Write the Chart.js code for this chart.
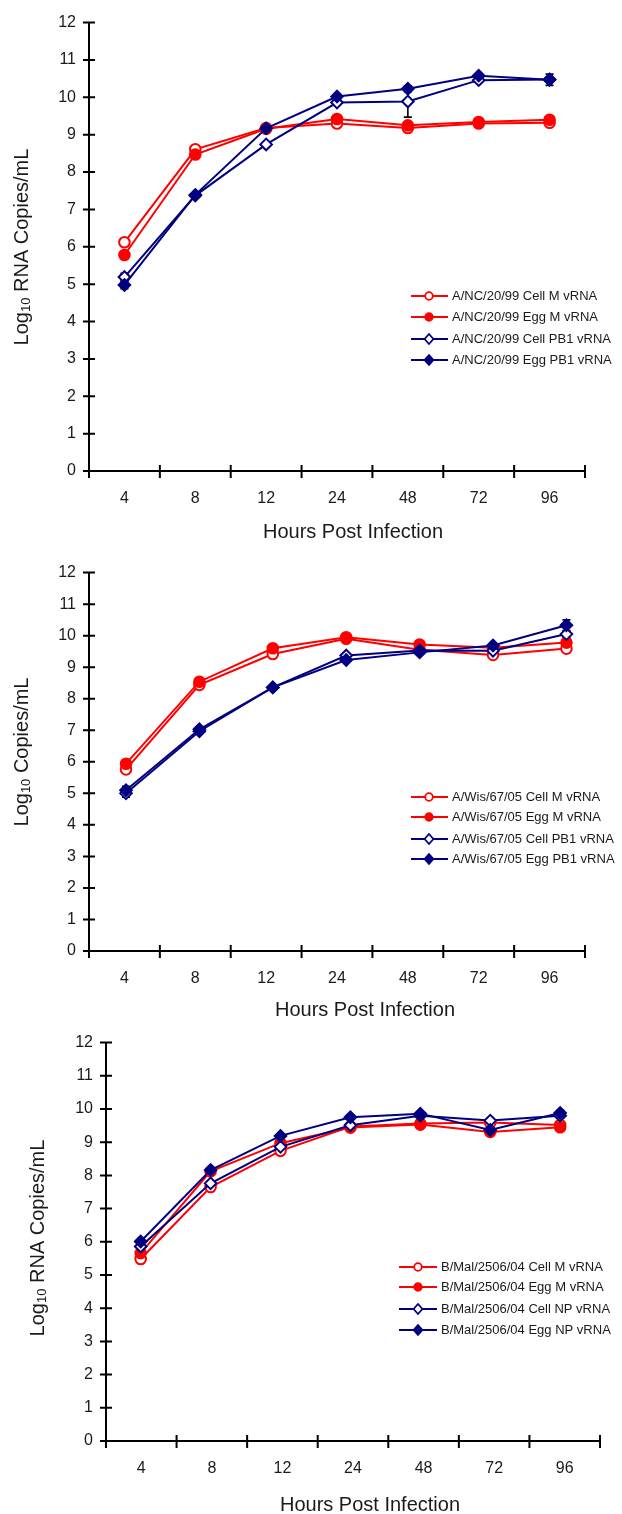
<!DOCTYPE html>
<html><head><meta charset="utf-8">
<script src="https://cdn.jsdelivr.net/npm/chart.js@4.4.0/dist/chart.umd.min.js"></script>
<style>
html,body{margin:0;padding:0;background:#fff;}
body{width:622px;height:1514px;position:relative;overflow:hidden;}
.box{position:absolute;left:0;width:622px;}
</style></head><body>
<div class="box" id="b1" style="top:0px;height:550px"><canvas id="c1"></canvas></div>
<div class="box" id="b2" style="top:550px;height:470px"><canvas id="c2"></canvas></div>
<div class="box" id="b3" style="top:1020px;height:494px"><canvas id="c3"></canvas></div>
<script>
// ---------- data ----------
const hours = ['4', '8', '12', '24', '48', '72', '96'];

// Panel 1: A/NC/20/99
const p1Labels = ['A/NC/20/99 Cell M vRNA', 'A/NC/20/99 Egg M vRNA', 'A/NC/20/99 Cell PB1 vRNA', 'A/NC/20/99 Egg PB1 vRNA'];
const p1CellM   = [6.12, 8.61, 9.18, 9.30, 9.18, 9.30, 9.32];
const p1EggM    = [5.78, 8.47, 9.16, 9.42, 9.25, 9.34, 9.40];
const p1CellPB1 = [5.19, 7.37, 8.74, 9.86, 9.89, 10.46, 10.48];
const p1EggPB1  = [4.98, 7.39, 9.17, 10.02, 10.23, 10.58, 10.47];
const p1CellMErr   = [0.05, 0.04, 0.03, 0.04, 0.04, 0.03, 0.04];
const p1EggMErr    = [0.05, 0.04, 0.03, 0.05, 0.08, 0.03, 0.05];
const p1CellPB1Err = [0.10, 0.05, 0.04, 0.05, 0.42, 0.04, 0.05];
const p1EggPB1Err  = [0.10, 0.05, 0.04, 0.04, 0.08, 0.04, 0.15];

// Panel 2: A/Wis/67/05
const p2Labels = ['A/Wis/67/05 Cell M vRNA', 'A/Wis/67/05 Egg M vRNA', 'A/Wis/67/05 Cell PB1 vRNA', 'A/Wis/67/05 Egg PB1 vRNA'];
const p2CellM   = [5.76, 8.44, 9.42, 9.90, 9.55, 9.39, 9.59];
const p2EggM    = [5.94, 8.54, 9.60, 9.95, 9.72, 9.62, 9.78];
const p2CellPB1 = [5.00, 6.97, 8.36, 9.37, 9.53, 9.52, 10.05];
const p2EggPB1  = [5.10, 7.03, 8.36, 9.23, 9.47, 9.69, 10.33];
const p2CellMErr   = [0.08, 0.06, 0.04, 0.04, 0.04, 0.08, 0.04];
const p2EggMErr    = [0.05, 0.08, 0.04, 0.04, 0.04, 0.04, 0.05];
const p2CellPB1Err = [0.12, 0.05, 0.04, 0.04, 0.04, 0.05, 0.10];
const p2EggPB1Err  = [0.12, 0.05, 0.04, 0.04, 0.04, 0.05, 0.17];

// Panel 3: B/Mal/2506/04
const p3Labels = ['B/Mal/2506/04 Cell M vRNA', 'B/Mal/2506/04 Egg M vRNA', 'B/Mal/2506/04 Cell NP vRNA', 'B/Mal/2506/04 Egg NP vRNA'];
const p3CellM  = [5.48, 7.65, 8.74, 9.47, 9.56, 9.59, 9.52];
const p3EggM   = [5.66, 8.12, 8.97, 9.44, 9.53, 9.31, 9.45];
const p3CellNP = [5.86, 7.76, 8.86, 9.51, 9.80, 9.65, 9.80];
const p3EggNP  = [6.01, 8.16, 9.19, 9.75, 9.86, 9.37, 9.88];
const p3CellMErr  = [0.06, 0.06, 0.08, 0.08, 0.05, 0.05, 0.08];
const p3EggMErr   = [0.06, 0.06, 0.08, 0.08, 0.05, 0.05, 0.08];
const p3CellNPErr = [0.05, 0.06, 0.08, 0.05, 0.05, 0.05, 0.08];
const p3EggNPErr  = [0.05, 0.05, 0.05, 0.05, 0.05, 0.05, 0.08];

// y-axis tick range
const yMin = 0, yMax = 12, yStep = 1;

// ---------- styles ----------
const RED = '#FF0000', BLUE = '#000080';
const FONT = "'Liberation Sans', Arial, Helvetica, sans-serif";

function mk(vals, errs, label, color, shape, filled, order) {
  return {
    label: label,
    data: vals.map((v, i) => ({ x: i, y: v })),
    errs: errs, order: order,
    xAxisID: 'xd', yAxisID: 'y',
    borderColor: color, backgroundColor: filled ? color : '#fff',
    pointBackgroundColor: filled ? color : '#fff', pointBorderColor: color,
    pointStyle: shape, pointRadius: shape === 'circle' ? 5.3 : 5.8, pointBorderWidth: 2,
    borderWidth: 2, tension: 0, fill: false, _filled: filled, _shape: shape
  };
}

const decor = {
  id: 'decor',
  beforeDatasetsDraw(chart, args, o) {
    const ctx = chart.ctx, ca = chart.chartArea;
    const xs = chart.scales.x, ys = chart.scales.y, xd = chart.scales.xd;
    ctx.save();
    ctx.strokeStyle = '#000'; ctx.lineWidth = 2; ctx.lineCap = 'butt';
    ctx.beginPath();
    ctx.moveTo(ca.left, ca.top - 1); ctx.lineTo(ca.left, ca.bottom); ctx.lineTo(ca.right, ca.bottom);
    ys.ticks.forEach(t => {
      const y = ys.getPixelForValue(t.value);
      ctx.moveTo(ca.left - 6, y); ctx.lineTo(ca.left + 6, y);
    });
    const n = xs.ticks.length;
    for (let i = 0; i <= n; i++) {
      const x = xs.getPixelForValue(i - 0.5);
      ctx.moveTo(x, ca.bottom - 6); ctx.lineTo(x, ca.bottom + 7);
    }
    ctx.stroke();
    // error bars
    ctx.lineWidth = 1.6;
    chart.data.datasets.forEach(ds => {
      if (!ds.errs) return;
      ds.data.forEach((p, i) => {
        const e = ds.errs[i]; if (!e) return;
        const x = xd.getPixelForValue(p.x);
        const y1 = ys.getPixelForValue(p.y + e), y2 = ys.getPixelForValue(p.y - e);
        ctx.beginPath();
        ctx.moveTo(x, y1); ctx.lineTo(x, y2);
        ctx.moveTo(x - 4, y1); ctx.lineTo(x + 4, y1);
        ctx.moveTo(x - 4, y2); ctx.lineTo(x + 4, y2);
        ctx.stroke();
      });
    });
    ctx.restore();
  },
  afterDraw(chart, args, o) {
    const ctx = chart.ctx;
    ctx.save();
    ctx.fillStyle = '#1a1a1a';
    // x title
    ctx.font = '20px ' + FONT; ctx.textAlign = 'center'; ctx.textBaseline = 'middle';
    ctx.fillText(o.xTitle, o.xTitlePos[0], o.xTitlePos[1]);
    // y title with subscript
    ctx.save();
    ctx.translate(o.yTitlePos[0], o.yTitlePos[1]); ctx.rotate(-Math.PI / 2);
    ctx.textAlign = 'left';
    let total = 0;
    o.yTitle.forEach(p => { ctx.font = (p.sub ? '13px ' : '20px ') + FONT; total += ctx.measureText(p.t).width; });
    let x = -total / 2;
    o.yTitle.forEach(p => {
      ctx.font = (p.sub ? '13px ' : '20px ') + FONT;
      ctx.fillText(p.t, x, p.sub ? 4 : 0);
      x += ctx.measureText(p.t).width;
    });
    ctx.restore();
    // legend
    const L = o.legend;
    ctx.font = '13px ' + FONT; ctx.textAlign = 'left'; ctx.textBaseline = 'middle';
    chart.data.datasets.forEach((ds, i) => {
      const y = L.rows[i];
      ctx.strokeStyle = ds.borderColor; ctx.lineWidth = 2;
      ctx.beginPath(); ctx.moveTo(L.x0, y); ctx.lineTo(L.x1, y); ctx.stroke();
      const r = ds._shape === 'circle' ? 3.8 : 4.4;
      ctx.beginPath();
      if (ds._shape === 'circle') ctx.arc(L.mx, y, r, 0, Math.PI * 2);
      else { ctx.moveTo(L.mx, y - r - 0.6); ctx.lineTo(L.mx + r, y); ctx.lineTo(L.mx, y + r + 0.6); ctx.lineTo(L.mx - r, y); ctx.closePath(); }
      ctx.fillStyle = ds._filled ? ds.borderColor : '#fff'; ctx.fill();
      ctx.lineWidth = 1.8; ctx.stroke();
      ctx.fillStyle = '#1a1a1a';
      ctx.fillText(ds.label, L.tx, y + 0.5);
    });
    ctx.restore();
  }
};

function makePanel(cfg) {
  const a = cfg.area, top = cfg.top, H = cfg.height;
  const loc = (pt) => [pt[0], pt[1] - top];
  new Chart(document.getElementById(cfg.id), {
    type: 'line',
    data: { labels: hours, datasets: cfg.datasets },
    options: {
      responsive: true, maintainAspectRatio: false, animation: false,
      layout: { padding: { left: 0, right: 622 - a.right, top: a.top - top, bottom: 0 } },
      plugins: {
        legend: { display: false }, tooltip: { enabled: false },
        decor: {
          xTitle: 'Hours Post Infection', xTitlePos: loc(cfg.xTitlePos),
          yTitle: cfg.yTitle, yTitlePos: loc(cfg.yTitlePos),
          legend: { x0: cfg.legend.x0, x1: cfg.legend.x1, mx: cfg.legend.mx, tx: cfg.legend.tx,
                    rows: cfg.legend.rows.map(r => r - top) }
        }
      },
      scales: {
        x: {
          type: 'category', position: 'bottom', offset: true,
          grid: { display: false, drawTicks: false }, border: { display: false },
          ticks: { color: '#1a1a1a', font: { family: FONT, size: 16 }, padding: 18, maxRotation: 0, autoSkip: false },
          afterFit: s => { s.height = H - (a.bottom - top); }
        },
        xd: { type: 'linear', display: false, min: cfg.xRange[0], max: cfg.xRange[1] },
        y: {
          type: 'linear', position: 'left', min: yMin, max: yMax,
          grid: { display: false, drawTicks: false }, border: { display: false },
          ticks: { stepSize: yStep, color: '#1a1a1a', font: { family: FONT, size: 16 }, padding: 13 },
          afterFit: s => { s.width = a.left; }
        }
      }
    },
    plugins: [decor]
  });
}

const titleRNA = [{ t: 'Log' }, { t: '10', sub: true }, { t: ' RNA Copies/mL' }];
const titleCopies = [{ t: 'Log' }, { t: '10', sub: true }, { t: ' Copies/mL' }];

makePanel({
  id: 'c1', top: 0, height: 550, area: { left: 89, right: 585, top: 20, bottom: 471 },
  xRange: [-0.5, 6.5], yTitle: titleRNA, yTitlePos: [22, 247], xTitlePos: [353, 532],
  legend: { x0: 411, x1: 448, mx: 429, tx: 452, rows: [296, 317, 339, 360] },
  datasets: [
    mk(p1CellM, p1CellMErr, p1Labels[0], RED, 'circle', false, 3),
    mk(p1EggM, p1EggMErr, p1Labels[1], RED, 'circle', true, 2),
    mk(p1CellPB1, p1CellPB1Err, p1Labels[2], BLUE, 'rectRot', false, 1),
    mk(p1EggPB1, p1EggPB1Err, p1Labels[3], BLUE, 'rectRot', true, 0)
  ]
});
makePanel({
  id: 'c2', top: 550, height: 470, area: { left: 89, right: 585, top: 559.5, bottom: 951 },
  xRange: [-0.504, 6.253], yTitle: titleCopies, yTitlePos: [22, 752], xTitlePos: [365, 1010],
  legend: { x0: 411, x1: 448, mx: 429, tx: 452, rows: [797, 817, 839, 859] },
  datasets: [
    mk(p2CellM, p2CellMErr, p2Labels[0], RED, 'circle', false, 3),
    mk(p2EggM, p2EggMErr, p2Labels[1], RED, 'circle', true, 2),
    mk(p2CellPB1, p2CellPB1Err, p2Labels[2], BLUE, 'rectRot', false, 1),
    mk(p2EggPB1, p2EggPB1Err, p2Labels[3], BLUE, 'rectRot', true, 0)
  ]
});
makePanel({
  id: 'c3', top: 1020, height: 494, area: { left: 106, right: 600, top: 1036, bottom: 1441 },
  xRange: [-0.496, 6.57], yTitle: titleRNA, yTitlePos: [38, 1238], xTitlePos: [370, 1505],
  legend: { x0: 399, x1: 437, mx: 418, tx: 441, rows: [1267, 1287, 1309, 1330] },
  datasets: [
    mk(p3CellM, p3CellMErr, p3Labels[0], RED, 'circle', false, 3),
    mk(p3EggM, p3EggMErr, p3Labels[1], RED, 'circle', true, 2),
    mk(p3CellNP, p3CellNPErr, p3Labels[2], BLUE, 'rectRot', false, 1),
    mk(p3EggNP, p3EggNPErr, p3Labels[3], BLUE, 'rectRot', true, 0)
  ]
});
</script>
</body></html>
